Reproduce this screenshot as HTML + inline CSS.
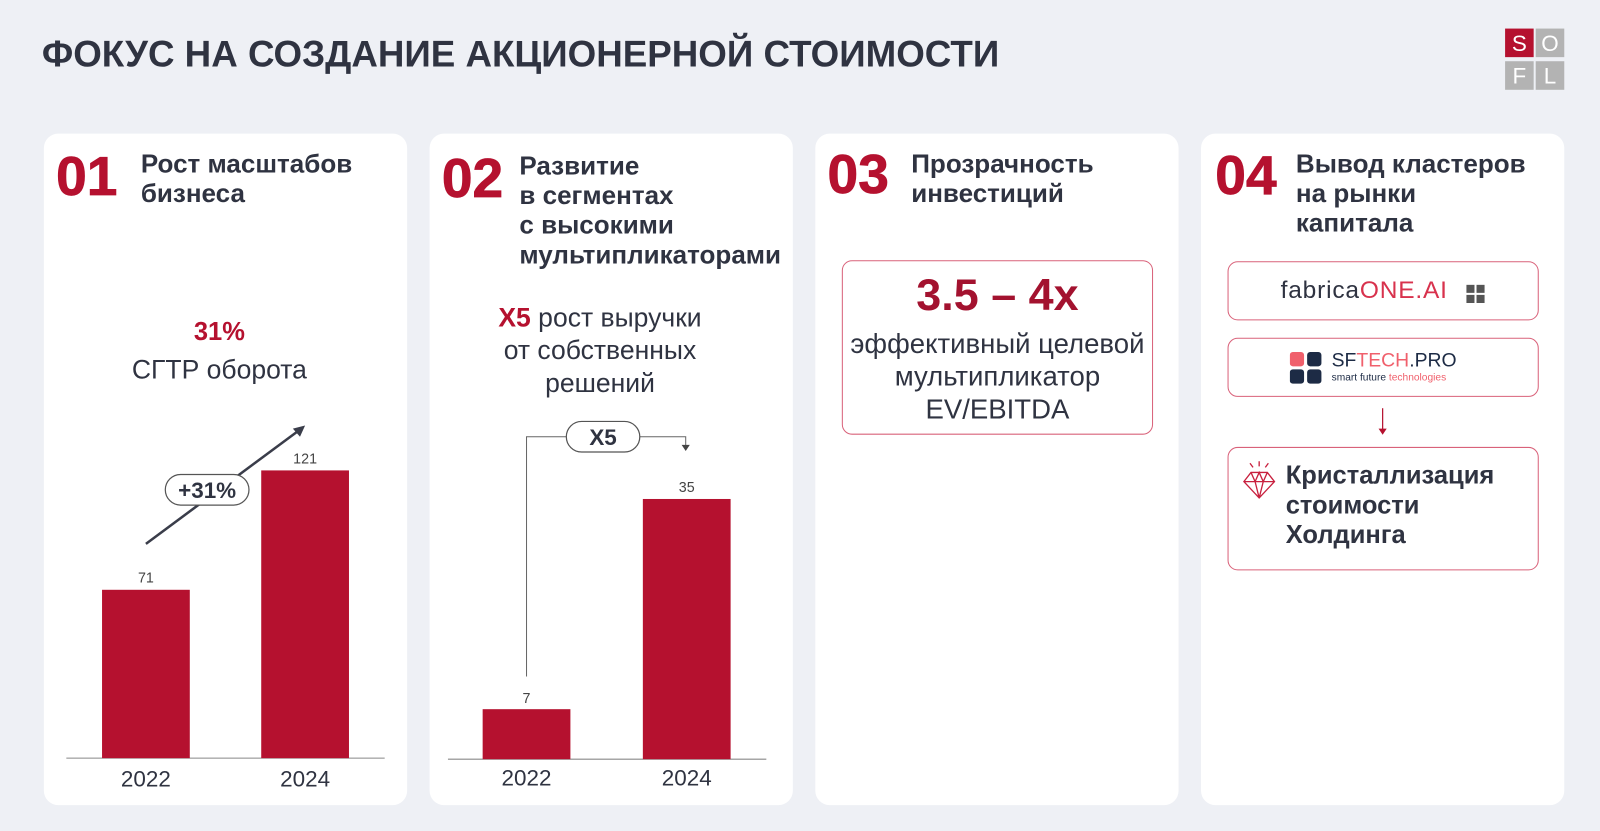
<!DOCTYPE html>
<html><head><meta charset="utf-8"><style>
html,body{margin:0;padding:0;width:1600px;height:831px;overflow:hidden;background:#eef0f5}
#w{position:absolute;left:0;top:0;width:1568px;height:814px;transform:scale(1.0204);transform-origin:0 0;font-family:"Liberation Sans","DejaVu Sans",sans-serif;color:#2f3341}
.a{position:absolute;white-space:nowrap}
.card{position:absolute;top:131px;width:356px;height:658px;background:#fff;border-radius:14px}
.num{position:absolute;font-size:54px;font-weight:bold;color:#b5112f;line-height:50px;-webkit-text-stroke:0.8px #b5112f}
.h{position:absolute;font-size:25.5px;font-weight:bold;line-height:29px;color:#2f3341}
.t{font-size:26px;line-height:32px;text-align:center}
.box{position:absolute;border:1.5px solid #d9627a;border-radius:10px;background:#fff}
.bar{position:absolute;background:#b5112f}
.lbl{position:absolute;font-size:14px;width:86px;text-align:center;color:#444}
.yr{position:absolute;font-size:22px;width:120px;text-align:center;color:#2f3341}
</style></head><body><div id="w">
<div class="a" style="left:41px;top:32px;font-size:36px;font-weight:bold;color:#2f3341">ФОКУС НА СОЗДАНИЕ АКЦИОНЕРНОЙ СТОИМОСТИ</div>
<svg class="a" style="left:1474px;top:27px" width="60" height="62">
<rect x="1" y="1" width="28" height="28" fill="#b5112f"/><rect x="31" y="1" width="28" height="28" fill="#b3b3b3"/>
<rect x="1" y="33" width="28" height="28" fill="#b3b3b3"/><rect x="31" y="33" width="28" height="28" fill="#b3b3b3"/>
<g fill="#fff" font-size="22" font-family="Liberation Sans" text-anchor="middle"><text x="15" y="23">S</text><text x="45" y="23">O</text><text x="15" y="55">F</text><text x="45" y="55">L</text></g></svg>

<div class="card" style="left:43px"></div>
<div class="card" style="left:421px"></div>
<div class="card" style="left:799px"></div>
<div class="card" style="left:1177px"></div>

<div class="num" style="left:55px;top:148px">01</div>
<div class="h" style="left:138px;top:147px">Рост масштабов<br>бизнеса</div>
<div class="a" style="left:115px;top:311px;width:200px;text-align:center;font-size:25px;font-weight:bold;color:#b5112f">31%</div>
<div class="a" style="left:95px;top:347px;width:240px;text-align:center;font-size:26px">СГТР оборота</div>
<svg class="a" style="left:0;top:0" width="800" height="814">
<line x1="65" y1="743" x2="377" y2="743" stroke="#888" stroke-width="1"/>
<line x1="143" y1="533" x2="294" y2="421" stroke="#3a3d4a" stroke-width="2.5"/>
<polygon points="299,417 287,420 294,428" fill="#3a3d4a"/>
<rect x="162" y="465" width="82" height="30" rx="15" fill="#fff" stroke="#555" stroke-width="1.2"/>
<text x="203" y="488" font-size="22" font-weight="bold" text-anchor="middle" fill="#2f3341" font-family="Liberation Sans">+31%</text>
<line x1="439" y1="744" x2="751" y2="744" stroke="#888" stroke-width="1"/>
<polyline points="516,663 516,428 672,428 672,438" fill="none" stroke="#666" stroke-width="1"/>
<polygon points="668,436 676,436 672,442" fill="#444"/>
<rect x="555" y="413" width="72" height="30" rx="15" fill="#fff" stroke="#555" stroke-width="1.2"/>
<text x="591" y="436" font-size="22" font-weight="bold" text-anchor="middle" fill="#2f3341" font-family="Liberation Sans">X5</text>
</svg>
<div class="bar" style="left:100px;top:578px;width:86px;height:165px"></div>
<div class="bar" style="left:256px;top:461px;width:86px;height:282px"></div>
<div class="lbl" style="left:100px;top:558px">71</div>
<div class="lbl" style="left:256px;top:441px">121</div>
<div class="yr" style="left:83px;top:751px">2022</div>
<div class="yr" style="left:239px;top:751px">2024</div>

<div class="num" style="left:433px;top:150px">02</div>
<div class="h" style="left:509px;top:149px">Развитие<br>в сегментах<br>с высокими<br>мультипликаторами</div>
<div class="a t" style="left:438px;top:295px;width:300px"><b style="color:#b5112f">X5</b> рост выручки<br>от собственных<br>решений</div>
<div class="bar" style="left:473px;top:695px;width:86px;height:49px"></div>
<div class="bar" style="left:630px;top:489px;width:86px;height:255px"></div>
<div class="lbl" style="left:473px;top:676px">7</div>
<div class="lbl" style="left:630px;top:469px">35</div>
<div class="yr" style="left:456px;top:750px">2022</div>
<div class="yr" style="left:613px;top:750px">2024</div>

<div class="num" style="left:811px;top:146px">03</div>
<div class="h" style="left:893px;top:147px">Прозрачность<br>инвестиций</div>
<div class="box" style="left:825px;top:255px;width:303px;height:169px"></div>
<div class="a" style="left:825px;top:265px;width:305px;text-align:center;font-size:44px;font-weight:bold;color:#a3122f">3.5 – 4x</div>
<div class="a t" style="left:825px;top:321px;width:305px;font-size:27px">эффективный целевой<br>мультипликатор<br>EV/EBITDA</div>

<div class="num" style="left:1191px;top:147px">04</div>
<div class="h" style="left:1270px;top:147px">Вывод кластеров<br>на рынки<br>капитала</div>
<div class="box" style="left:1203px;top:256px;width:303px;height:56px"></div>
<div class="a" style="left:1255px;top:271px;font-size:24px;color:#2f3341;letter-spacing:0.8px">fabrica<span style="color:#d8324d">ONE.AI</span></div>
<svg class="a" style="left:1437px;top:279px" width="18" height="18"><rect x="0" y="0" width="8" height="8" fill="#555"/><rect x="10" y="0" width="8" height="8" fill="#555"/><rect x="0" y="10" width="8" height="8" fill="#555"/><rect x="10" y="10" width="8" height="8" fill="#555"/></svg>
<div class="box" style="left:1203px;top:331px;width:303px;height:56px"></div>
<svg class="a" style="left:1264px;top:345px" width="32" height="32"><rect x="0" y="0" width="14" height="14" rx="3" fill="#f0606c"/><rect x="17" y="0" width="14" height="14" rx="3" fill="#1d2b45"/><rect x="0" y="17" width="14" height="14" rx="3" fill="#1d2b45"/><rect x="17" y="17" width="14" height="14" rx="3" fill="#1d2b45"/></svg>
<div class="a" style="left:1305px;top:343px;font-size:19px;color:#1d2b45">SF<span style="color:#f0606c">TECH</span>.PRO</div>
<div class="a" style="left:1305px;top:365px;font-size:10px;color:#1d2b45">smart future <span style="color:#f0606c">technologies</span></div>
<svg class="a" style="left:1350px;top:400px" width="10" height="28"><line x1="5" y1="0" x2="5" y2="22" stroke="#b5112f" stroke-width="1.2"/><polygon points="1,20 9,20 5,26" fill="#b5112f"/></svg>
<div class="box" style="left:1203px;top:438px;width:303px;height:119px"></div>
<svg class="a" style="left:1216px;top:450px" width="36" height="40" fill="none" stroke="#c8203e" stroke-width="1.3"><path d="M3 22 L10 13 L26 13 L33 22 L18 38 Z M3 22 L33 22 M10 13 L14 22 L18 13 L22 22 L26 13 M14 22 L18 38 L22 22"/><path d="M18 2 L18 7 M9 4 L12 8 M27 4 L24 8"/></svg>
<div class="a" style="left:1260px;top:452px;font-size:25px;font-weight:bold;line-height:29px;color:#2f3341">Кристаллизация<br>стоимости<br>Холдинга</div>
</div></body></html>
